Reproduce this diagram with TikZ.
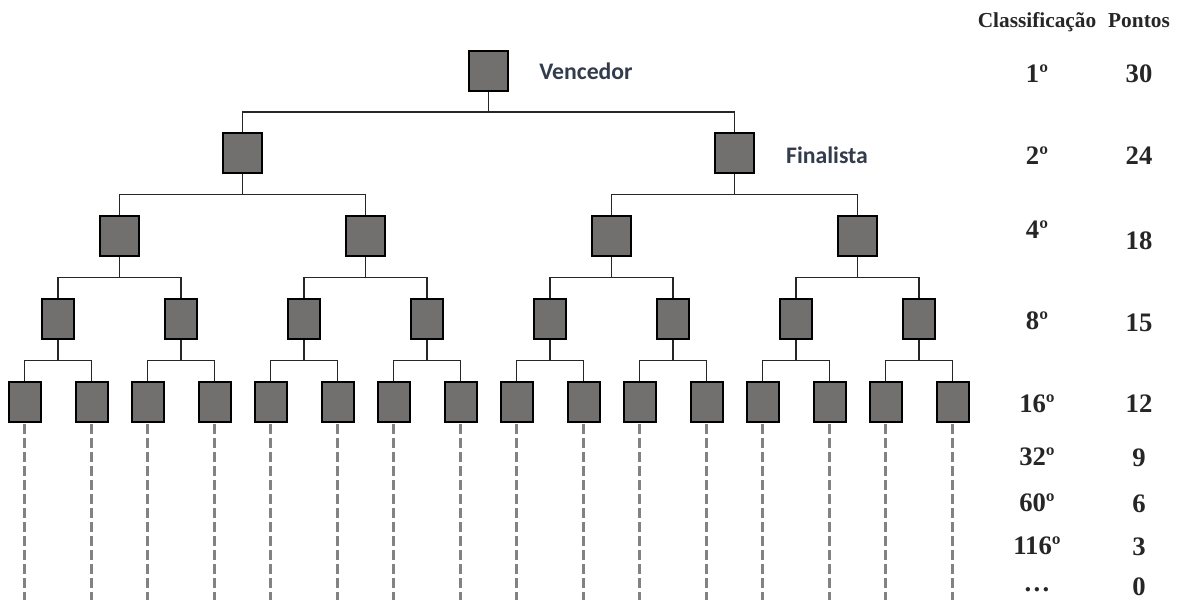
\documentclass[tikz,border=0pt]{standalone}
\usepackage{fontspec}
\setmainfont{Liberation Serif}
\newfontfamily\lblfont{Carlito}
\usetikzlibrary{calc}
\definecolor{sqfill}{HTML}{72706F}
\definecolor{lbltext}{HTML}{323C4C}
\definecolor{dashgray}{HTML}{828282}
\tikzset{
  bigsq/.style={draw=black, fill=sqfill, line width=1.5pt, inner sep=0pt, minimum width=29.25pt, minimum height=30pt},
  smallsq/.style={draw=black, fill=sqfill, line width=1.5pt, inner sep=0pt, minimum width=24pt, minimum height=30pt},
  conn/.style={draw=black!85, line width=0.9pt},
  dashln/.style={draw=dashgray, line width=1.6pt, dash pattern=on 7pt off 3.5pt},
  lbl/.style={font=\lblfont\bfseries\fontsize{17.8pt}{20pt}\selectfont, text=lbltext, anchor=center, inner sep=0pt},
  hdr/.style={font=\bfseries\fontsize{16pt}{18pt}\selectfont, text=black!85, inner sep=0pt, anchor=base},
  num/.style={font=\bfseries\fontsize{20pt}{22pt}\selectfont, text=black!85, inner sep=0pt, anchor=center},
}
\begin{document}
\begin{tikzpicture}[x=0.75pt, y=-0.75pt]
\useasboundingbox (0,0) rectangle (1179,600);
% level nodes
\node[bigsq] (n0-0) at (488.5,71) {};
\foreach \i in {0,1} \node[bigsq] (n1-\i) at ({242.5+492*\i},153) {};
\foreach \i in {0,...,3} \node[bigsq] (n2-\i) at ({119.5+246*\i},236) {};
\foreach \i in {0,...,7} \node[smallsq] (n3-\i) at ({58+123*\i},319) {};
\foreach \i in {0,...,7} {
  \node[smallsq] (n4-\the\numexpr2*\i\relax) at ({58+123*\i-33.5},402) {};
  \node[smallsq] (n4-\the\numexpr2*\i+1\relax) at ({58+123*\i+33.5},402) {};
}
% connectors
\foreach \L/\M/\N in {0/1/0, 1/2/1, 2/3/3, 3/4/7} {
  \foreach \p in {0,...,\N} {
    \pgfmathtruncatemacro{\ca}{2*\p}
    \pgfmathtruncatemacro{\cb}{2*\p+1}
    \coordinate (m-\L-\p) at ($(n\L-\p.south)!0.5!(n\L-\p.south |- n\M-\ca.north)$);
    \draw[conn] (n\L-\p.south) -- (m-\L-\p);
    \draw[conn] (n\M-\ca.north) |- (m-\L-\p) -| (n\M-\cb.north);
  }
}
% dashed continuation lines
\foreach \i in {0,...,15} {
  \coordinate (e-\i) at (n4-\i.south |- 0,600);
  \draw[dashln] ([yshift=-1pt]n4-\i.south) -- (e-\i);
}
% labels
\node[lbl] (vl) at (586,71) {Vencedor};
\node[lbl] (fl) at (827,155) {Finalista};
% table
\node[hdr] (hc) at (1037,27) {Classificação};
\node[hdr] (hp) at (1139,27) {Pontos};
\node[num] (c1) at (1037,74) {1º};   \node[num] (p1) at (1139,74) {30};
\node[num] (c2) at (1037,156) {2º};  \node[num] (p2) at (1139,156) {24};
\node[num] (c3) at (1037,230) {4º};  \node[num] (p3) at (1139,241) {18};
\node[num] (c4) at (1037,321) {8º};  \node[num] (p4) at (1139,323) {15};
\node[num] (c5) at (1037,404) {16º}; \node[num] (p5) at (1139,404) {12};
\node[num] (c6) at (1037,457) {32º}; \node[num] (p6) at (1139,458) {9};
\node[num] (c7) at (1037,503) {60º}; \node[num] (p7) at (1139,504) {6};
\node[num] (c8) at (1037,546) {116º};\node[num] (p8) at (1139,547) {3};
\node[num] (c9) at (1037,588) {\raisebox{-5pt}{\dots}}; \node[num] (p9) at (1139,587) {0};
\end{tikzpicture}
\end{document}
